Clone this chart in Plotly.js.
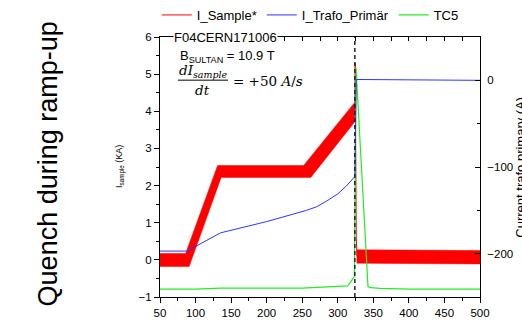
<!DOCTYPE html>
<html>
<head>
<meta charset="utf-8">
<script src="https://cdn.plot.ly/plotly-3.0.1.min.js"></script>
<style>
html,body{margin:0;padding:0;background:#fff;}
#chart{width:522px;height:329px;}
</style>
</head>
<body>
<div id="chart"></div>
<script>
// ---- Data ----
// I_Sample* noise band (kA): upper and lower envelope, before quench
const sampleUpperX = [50, 86, 131, 252, 324];
const sampleUpperY = [0.17, 0.17, 2.54, 2.54, 4.24];
const sampleLowerX = [50, 91, 136, 262, 324];
const sampleLowerY = [-0.18, -0.18, 2.22, 2.22, 3.72];
// I_Sample* band after quench
const postUpperX = [326.5, 500];
const postUpperY = [0.27, 0.25];
const postLowerX = [326.5, 500];
const postLowerY = [-0.09, -0.11];
// I_Sample* mean line (kA)
const sampleX = [50, 88.5, 133.5, 257, 324, 324.5, 326, 327, 500];
const sampleY = [0, 0, 2.38, 2.38, 3.98, 5.3, 0.6, 0.1, 0.07];
// I_Trafo_Primär (A, right axis)
const trafoX = [50, 88, 135, 200, 256, 270, 285, 300, 312, 318, 324, 326, 500];
const trafoY = [-197, -197, -176, -163, -150, -146, -139, -131, -122, -117, -111, 1, 0];
// TC5 (plotted on the left scale as drawn)
const tc5X = [50, 100, 135, 250, 314, 323.3, 325.6, 342.5, 346, 360, 400, 500];
const tc5Y = [-0.79, -0.79, -0.76, -0.76, -0.70, -0.45, 5.18, -0.72, -0.75, -0.77, -0.79, -0.79];
// Quench time (s)
const quenchTime = 324;
// Axis ticks
const leftTicks = [-1, 0, 1, 2, 3, 4, 5, 6];
const rightTicks = [0, -100, -200];
const bottomTicks = [50, 100, 150, 200, 250, 300, 350, 400, 450, 500];

const FONT = 'Arial, "Liberation Sans", sans-serif';
const SERIF = '"DejaVu Serif", "Liberation Serif", serif';
const RED = '#ff0000', BLUE = '#3333ff', GREEN = '#22ee22';

function polygon(ux, uy, lx, ly) {
  return {
    x: ux.concat(lx.slice().reverse()),
    y: uy.concat(ly.slice().reverse())
  };
}
const band1 = polygon(sampleUpperX, sampleUpperY, sampleLowerX, sampleLowerY);
const band2 = polygon(postUpperX, postUpperY, postLowerX, postLowerY);

const traces = [
  {x: band1.x, y: band1.y, type: 'scatter', mode: 'lines', fill: 'toself',
   fillcolor: RED, line: {color: RED, width: 0.5}, showlegend: false, hoverinfo: 'skip'},
  {x: band2.x, y: band2.y, type: 'scatter', mode: 'lines', fill: 'toself',
   fillcolor: RED, line: {color: RED, width: 0.5}, showlegend: false, hoverinfo: 'skip'},
  {x: sampleX, y: sampleY, type: 'scatter', mode: 'lines', name: 'I_Sample*',
   line: {color: RED, width: 1}},
  {x: trafoX, y: trafoY, type: 'scatter', mode: 'lines', name: 'I_Trafo_Primär',
   yaxis: 'y2', line: {color: BLUE, width: 1}},
  {x: tc5X, y: tc5Y, type: 'scatter', mode: 'lines', name: 'TC5',
   line: {color: GREEN, width: 1.2}},
  {x: [50], y: [null], xaxis: 'x2', type: 'scatter', mode: 'lines', showlegend: false, hoverinfo: 'skip'}
];

function note(text, x, y, opts) {
  return Object.assign({text: text, xref: 'paper', yref: 'paper', x: x, y: y,
    xanchor: 'center', yanchor: 'middle', showarrow: false,
    font: {family: FONT, size: 13, color: '#000'}}, opts || {});
}

const layout = {
  width: 522, height: 329,
  margin: {l: 160, r: 42, t: 37, b: 32, pad: 0, autoexpand: false},
  paper_bgcolor: '#fff', plot_bgcolor: '#fff',
  font: {family: FONT, size: 11, color: '#000'},
  showlegend: true,
  legend: {orientation: 'h', x: -0.01, y: 1.027, xanchor: 'left', yanchor: 'bottom',
           font: {family: FONT, size: 13, color: '#000'}, itemwidth: 30,
           bgcolor: 'rgba(0,0,0,0)', tracegroupgap: 0},
  xaxis: {range: [50, 500], tickmode: 'array', tickvals: bottomTicks,
          ticks: 'outside', ticklen: 5, tickcolor: '#000', tickwidth: 1,
          minor: {dtick: 25, ticks: 'outside', ticklen: 3, tickcolor: '#000'},
          showline: true, linecolor: '#000', linewidth: 1, showgrid: false, zeroline: false,
          tickfont: {family: FONT, size: 11.5, color: '#000'}},
  xaxis2: {overlaying: 'x', side: 'top', range: [50, 500], dtick: 25, tick0: 50,
           ticks: 'inside', ticklen: 4, tickcolor: '#000', showticklabels: false,
           showline: true, linecolor: '#000', linewidth: 1, showgrid: false, zeroline: false},
  yaxis: {range: [-1, 6], tickmode: 'array', tickvals: leftTicks,
          ticks: 'outside', ticklen: 5, tickcolor: '#000',
          minor: {dtick: 0.5, ticks: 'outside', ticklen: 3, tickcolor: '#000'},
          showline: true, linecolor: '#000', linewidth: 1, showgrid: false, zeroline: false,
          tickfont: {family: FONT, size: 11.5, color: '#000'}},
  yaxis2: {overlaying: 'y', side: 'right', range: [-250, 50], tickmode: 'array', tickvals: rightTicks,
           ticks: 'inside', ticklen: 5, tickcolor: '#000', ticklabelstandoff: 4,
           minor: {dtick: 50, ticks: 'inside', ticklen: 3, tickcolor: '#000'},
           showline: true, linecolor: '#000', linewidth: 1, showgrid: false, zeroline: false,
           tickfont: {family: FONT, size: 11.5, color: '#000'}},
  shapes: [
    {type: 'line', xref: 'x', yref: 'paper', x0: quenchTime, x1: quenchTime, y0: 0, y1: 1,
     line: {color: '#222', width: 1.5, dash: '4px,3px'}},
    {type: 'line', xref: 'paper', yref: 'paper', x0: 0.056, x1: 0.2125, y0: 0.834, y1: 0.834,
     line: {color: '#000', width: 1}}
  ],
  annotations: [
    note('Quench during ramp-up', -0.35, 0.51, {textangle: -90, font: {family: FONT, size: 27, color: '#000'}}),
    note('I<sub>sample</sub> (KA)', -0.125, 0.5, {textangle: -90, font: {family: FONT, size: 9, color: '#000'}}),
    note('Current trafo primary (A)', 1.124, 0.5, {textangle: -90, font: {family: FONT, size: 13, color: '#000'}}),
    note('time (s)', 0.5, -0.108, {yanchor: 'top'}),
    note('F04CERN171006', 0.041, 0.997, {xanchor: 'left', bgcolor: '#fff', borderpad: 0}),
    note('B<sub>SULTAN</sub> = 10.9 T', 0.056, 0.924, {xanchor: 'left'}),
    note('<i>dI<sub>sample</sub></i>', 0.134, 0.868, {font: {family: SERIF, size: 13.5, color: '#000'}}),
    note('<i>dt</i>', 0.134, 0.797, {font: {family: SERIF, size: 13.5, color: '#000'}}),
    note('= +50 <i>A</i>/<i>s</i>', 0.222, 0.832, {xanchor: 'left', font: {family: SERIF, size: 13.5, color: '#000'}})
  ]
};

Plotly.newPlot('chart', traces, layout, {staticPlot: true, displayModeBar: false});
</script>
</body>
</html>
